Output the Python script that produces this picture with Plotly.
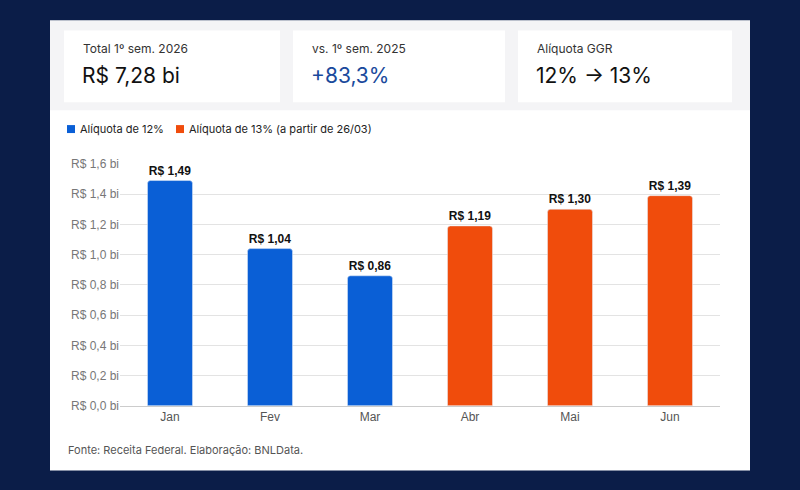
import plotly.graph_objects as go

meses = ["Jan", "Fev", "Mar", "Abr", "Mai", "Jun"]
valores = [1.49, 1.04, 0.86, 1.19, 1.30, 1.39]
aliquota = [12, 12, 12, 13, 13, 13]
ticks = [0, 0.2, 0.4, 0.6, 0.8, 1.0, 1.2, 1.4, 1.6]
cards = [("Total 1º sem. 2026", "R$ 7,28 bi", "#111111"),
         ("vs. 1º sem. 2025", "+83,3%", "#1a4a9c"),
         ("Alíquota GGR", "12% → 13%", "#111111")]

BLUE = "#0a5fd6"
ORANGE = "#f04c0c"
W, H = 800, 490
FONT = "Inter"

def px_x(x):
    return x / W

def px_y(y):
    # small correction: the page renders the figure slightly shorter
    y = (y - 4.4) / 0.9757
    return 1 - y / H

fig = go.Figure()
cores = [BLUE if a == 12 else ORANGE for a in aliquota]
rotulos = ["<b>R$ " + f"{v:.2f}".replace(".", ",") + "</b>" for v in valores]
fig.add_trace(go.Bar(x=meses, y=valores, marker_color=cores, text=rotulos,
                     textposition="outside", cliponaxis=False,
                     textfont=dict(family="Arial", size=12, color="#111111"),
                     width=0.45))

shapes = [
    dict(type="rect", xref="paper", yref="paper", x0=px_x(50), x1=px_x(750),
         y0=px_y(470), y1=px_y(18), fillcolor="white", line_width=0, layer="below"),
    dict(type="rect", xref="paper", yref="paper", x0=px_x(50), x1=px_x(750),
         y0=px_y(108), y1=px_y(18), fillcolor="#f4f4f6", line_width=0, layer="below"),
]
annotations = []
card_x = [(64, 280), (293, 505), (518, 732)]
for (x0, x1), (lab, val, col) in zip(card_x, cards):
    shapes.append(dict(type="rect", xref="paper", yref="paper", x0=px_x(x0), x1=px_x(x1),
                       y0=px_y(100), y1=px_y(28), fillcolor="white", line_width=0, layer="below"))
    annotations.append(dict(x=px_x(x0 + 17), y=px_y(46), xref="paper", yref="paper", text=lab,
                            showarrow=False, xanchor="left", yanchor="middle",
                            font=dict(family=FONT, size=12, color="#333333")))
    annotations.append(dict(x=px_x(x0 + 16), y=px_y(73), xref="paper", yref="paper", text=val,
                            showarrow=False, xanchor="left", yanchor="middle",
                            font=dict(family=FONT, size=21, color=col)))

# legenda
for lx, cor, txt in [(67, BLUE, "Alíquota de 12%"), (176, ORANGE, "Alíquota de 13% (a partir de 26/03)")]:
    shapes.append(dict(type="rect", xref="paper", yref="paper", x0=px_x(lx), x1=px_x(lx + 8),
                       y0=px_y(131), y1=px_y(123), fillcolor=cor, line_width=0))
    annotations.append(dict(x=px_x(lx + 11), y=px_y(127), xref="paper", yref="paper", text=txt,
                            showarrow=False, xanchor="left", yanchor="middle",
                            font=dict(family=FONT, size=11, color="#222222")))

annotations.append(dict(x=px_x(66), y=px_y(449), xref="paper", yref="paper",
                        text="Fonte: Receita Federal. Elaboração: BNLData.", showarrow=False,
                        xanchor="left", yanchor="middle",
                        font=dict(family=FONT, size=11, color="#555555")))

fig.update_layout(
    width=W, height=H, margin=dict(l=0, r=0, t=0, b=0),
    paper_bgcolor="#0b1d48", plot_bgcolor="white", showlegend=False,
    shapes=shapes, annotations=annotations, barcornerradius=3,
    xaxis=dict(domain=[px_x(120), px_x(720)], showline=True, linecolor="#cccccc",
               tickfont=dict(family="Arial", size=12, color="#555555"), ticks=""),
    yaxis=dict(domain=[px_y(405), px_y(162)], range=[0, 1.6], tickvals=ticks,
               ticktext=["R$ " + f"{t:.1f}".replace(".", ",") + " bi" for t in ticks],
               gridcolor="#e3e3e3", zeroline=False,
               tickfont=dict(family="Arial", size=12, color="#777777"), ticks=""),
)
fig.write_html("out.html", config={"displayModeBar": False},
               post_script="document.body.style.margin='0';")
